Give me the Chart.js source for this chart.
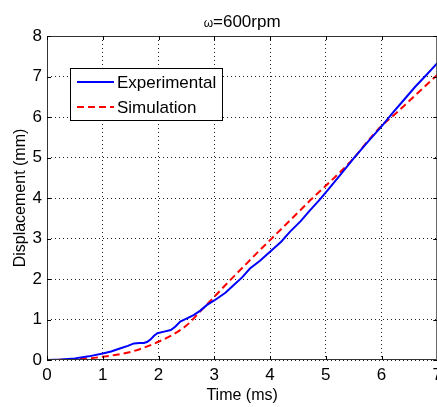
<!DOCTYPE html>
<html>
<head>
<meta charset="utf-8">
<script src="https://cdn.jsdelivr.net/npm/chart.js@4"></script>
<style>
    html, body { margin: 0; padding: 0; overflow: hidden; background: #fff; }
    #wrap { width: 447px; height: 407px; }
</style>
</head>
<body>
<div id="wrap"><canvas id="dispChart" width="447" height="407"></canvas></div>
<script>
// Data
const titleSymbol = '\u03c9';
const titleRest = '=600rpm';
const xTicks = [0, 1, 2, 3, 4, 5, 6, 7];
const yTicks = [0, 1, 2, 3, 4, 5, 6, 7, 8];

const expTime = [0, 0.25, 0.5, 0.75, 1.0, 1.15, 1.32, 1.45, 1.56, 1.66, 1.74, 1.8, 1.86, 1.92, 1.98, 2.1, 2.22, 2.3, 2.39, 2.5, 2.63, 2.75, 2.87, 3.0, 3.2, 3.35, 3.5, 3.64, 3.82, 4.0, 4.2, 4.36, 4.55, 4.72, 4.9, 5.05, 5.25, 5.5, 5.75, 6.02, 6.2, 6.4, 6.6, 6.8, 7.0];
const expDisp = [0, 0.01, 0.04, 0.09, 0.16, 0.21, 0.29, 0.35, 0.41, 0.42, 0.42, 0.45, 0.51, 0.6, 0.66, 0.7, 0.74, 0.82, 0.95, 1.02, 1.11, 1.22, 1.36, 1.47, 1.66, 1.85, 2.04, 2.26, 2.45, 2.67, 2.92, 3.17, 3.43, 3.7, 3.97, 4.22, 4.55, 4.98, 5.38, 5.8, 6.1, 6.42, 6.74, 7.03, 7.33];

const simTime = [0, 0.25, 0.5, 0.75, 1, 1.25, 1.5, 1.75, 2, 2.25, 2.5, 2.75, 3, 3.25, 3.5, 3.75, 4, 4.25, 4.5, 4.75, 5, 5.25, 5.5, 5.75, 6, 6.25, 6.5, 6.75, 7];
const simDisp = [0, 0.005, 0.015, 0.04, 0.08, 0.13, 0.2, 0.31, 0.45, 0.62, 0.85, 1.2, 1.56, 1.92, 2.27, 2.62, 2.96, 3.3, 3.64, 3.98, 4.3, 4.63, 4.98, 5.4, 5.78, 6.08, 6.4, 6.72, 7.04];

const FONT = "'Liberation Sans', Arial, sans-serif";

// Title: small omega then the rest, centred over the axes
const titlePlugin = {
    id: 'mixedTitle',
    afterDraw(chart) {
        const { ctx, chartArea: a } = chart;
        ctx.save();
        ctx.fillStyle = '#000';
        ctx.textBaseline = 'alphabetic';
        ctx.font = '12px ' + FONT;
        const w1 = ctx.measureText(titleSymbol).width;
        ctx.font = '17px ' + FONT;
        const w2 = ctx.measureText(titleRest).width;
        const x0 = (a.left + a.right) / 2 - (w1 + w2) / 2;
        ctx.font = '12px ' + FONT;
        ctx.fillText(titleSymbol, x0, 27);
        ctx.font = '17px ' + FONT;
        ctx.fillText(titleRest, x0 + w1, 27);
        ctx.restore();
    }
};

// Box round the plot with inward ticks, like the original
const boxPlugin = {
    id: 'boxTicks',
    afterDraw(chart) {
        const { ctx, chartArea: a, scales } = chart;
        ctx.save();
        ctx.strokeStyle = '#333';
        ctx.lineWidth = 1;
        ctx.beginPath();
        ctx.rect(a.left + 0.5, a.top + 0.5, a.right - a.left - 1, a.bottom - a.top - 1);
        ctx.stroke();
        const len = 4;
        ctx.strokeStyle = '#000';
        ctx.beginPath();
        xTicks.forEach(v => {
            const x = Math.round(scales.x.getPixelForValue(v)) + 0.5;
            ctx.moveTo(x, a.bottom); ctx.lineTo(x, a.bottom - len);
            ctx.moveTo(x, a.top); ctx.lineTo(x, a.top + len);
        });
        yTicks.forEach(v => {
            const y = Math.round(scales.y.getPixelForValue(v)) + 0.5;
            ctx.moveTo(a.left, y); ctx.lineTo(a.left + len, y);
            ctx.moveTo(a.right, y); ctx.lineTo(a.right - len, y);
        });
        ctx.stroke();
        ctx.restore();
    }
};

// Legend box inside the axes, upper left
const legendPlugin = {
    id: 'innerLegend',
    afterDraw(chart) {
        const ctx = chart.ctx;
        const bx = 70, by = 68, bw = 152, bh = 52;
        ctx.save();
        ctx.fillStyle = '#fff';
        ctx.fillRect(bx, by, bw, bh);
        ctx.strokeStyle = '#000';
        ctx.lineWidth = 1;
        ctx.strokeRect(bx + 0.5, by + 0.5, bw, bh);
        ctx.font = '17px ' + FONT;
        ctx.textBaseline = 'middle';
        chart.data.datasets.forEach((ds, i) => {
            const y = by + 14 + i * 25;
            ctx.strokeStyle = ds.borderColor;
            ctx.lineWidth = ds.borderWidth;
            ctx.setLineDash(ds.borderDash || []);
            ctx.beginPath();
            ctx.moveTo(bx + 7, y);
            ctx.lineTo(bx + 44, y);
            ctx.stroke();
            ctx.setLineDash([]);
            ctx.fillStyle = '#000';
            ctx.fillText(ds.label, bx + 47, y + 1);
        });
        ctx.restore();
    }
};

const ctx = document.getElementById('dispChart').getContext('2d');
new Chart(ctx, {
    type: 'line',
    data: {
        datasets: [{
            label: 'Experimental',
            data: expTime.map((t, i) => ({ x: t, y: expDisp[i] })),
            borderColor: '#0000ff',
            borderWidth: 2,
            pointRadius: 0,
            tension: 0
        }, {
            label: 'Simulation',
            data: simTime.map((t, i) => ({ x: t, y: simDisp[i] })),
            borderColor: '#ff0000',
            borderWidth: 2,
            borderDash: [7, 4],
            pointRadius: 0,
            cubicInterpolationMode: 'monotone'
        }]
    },
    options: {
        responsive: false,
        animation: false,
        layout: { padding: { top: 36, left: 0, right: 0, bottom: 0 } },
        plugins: {
            legend: { display: false },
            tooltip: { enabled: false },
            title: { display: false }
        },
        scales: {
            x: {
                type: 'linear',
                min: 0,
                max: 7,
                afterFit: s => { s.height = 47; },
                afterBuildTicks: s => { s.ticks = xTicks.map(v => ({ value: v })); },
                ticks: { color: '#000', font: { family: FONT, size: 17 }, padding: 5, maxRotation: 0 },
                grid: { color: '#222', drawTicks: false },
                border: { display: false, dash: [1, 3] },
                title: {
                    display: true,
                    text: 'Time (ms)',
                    color: '#000',
                    font: { family: FONT, size: 16 },
                    padding: { top: 0, bottom: 2 }
                }
            },
            y: {
                min: 0,
                max: 8,
                afterFit: s => { s.width = 47; },
                afterBuildTicks: s => { s.ticks = yTicks.map(v => ({ value: v })); },
                ticks: { color: '#000', font: { family: FONT, size: 17 }, padding: 5 },
                grid: { color: '#222', drawTicks: false },
                border: { display: false, dash: [1, 3] },
                title: {
                    display: true,
                    text: 'Displacement (mm)',
                    color: '#000',
                    font: { family: FONT, size: 16 },
                    padding: { top: 11, bottom: 0 }
                }
            }
        }
    },
    plugins: [boxPlugin, legendPlugin, titlePlugin]
});
</script>
</body>
</html>
